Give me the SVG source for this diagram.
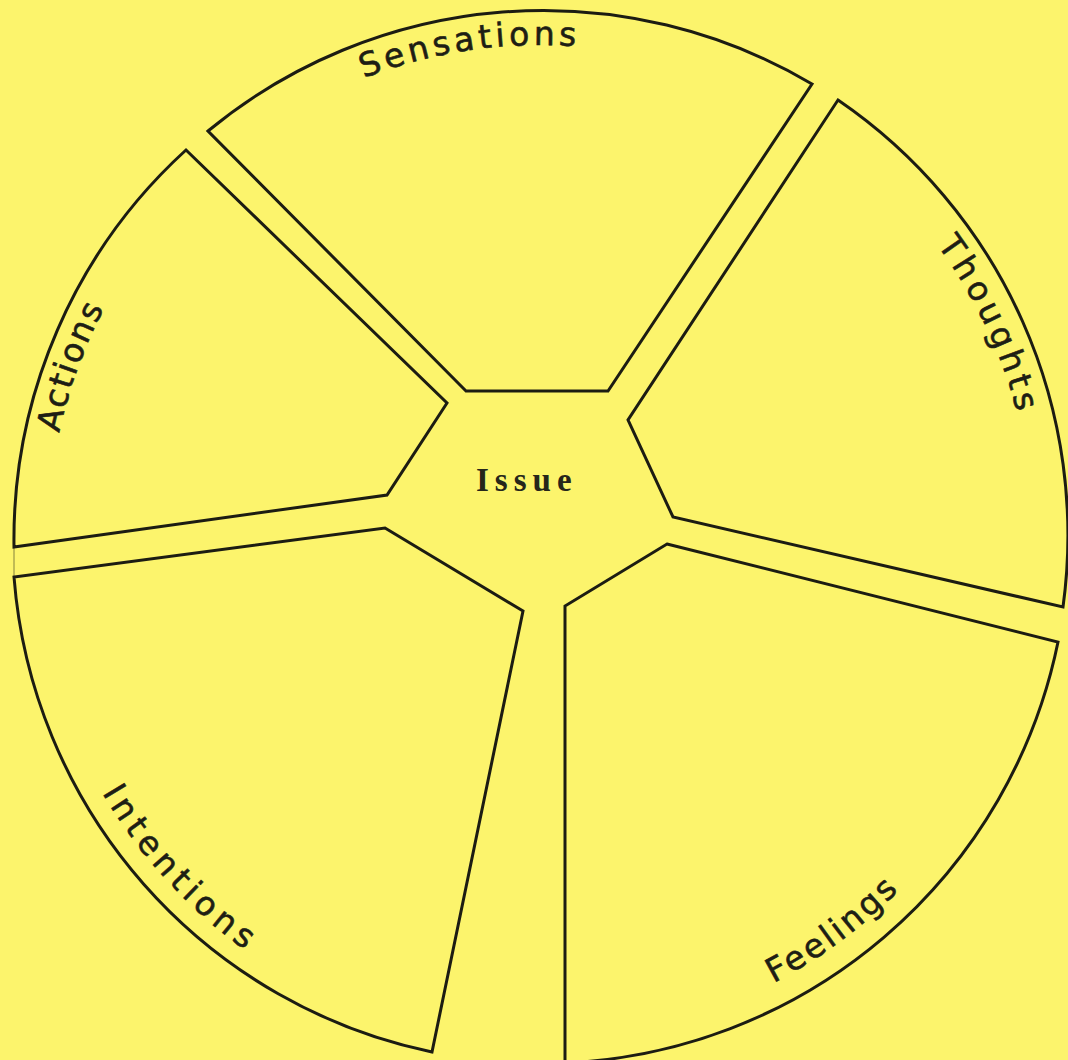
<svg xmlns="http://www.w3.org/2000/svg" xmlns:xlink="http://www.w3.org/1999/xlink" width="1068" height="1060" viewBox="0 0 1068 1060">
  <style>
    .seg { fill: none; stroke: #1c1c12; stroke-width: 3; stroke-linejoin: miter; }
    .lbl { font-family: "DejaVu Sans", "Liberation Sans", sans-serif; font-size: 33px; fill: #1e1e14; stroke: #1e1e14; stroke-width: 0.6; }
    .issue { font-family: "Liberation Serif", "Times New Roman", serif; font-weight: bold; font-size: 33px; letter-spacing: 6px; fill: #26261a; }
  </style>
  <defs>
    <path id="pSens" d="M236.1,150.9 A492,492 0 0 1 722.9,79.9"/>
    <path id="pThou" d="M821.1,132.5 A492,492 0 0 1 1031.3,577.3"/>
    <path id="pAct" d="M55.5,622.6 A493,493 0 0 1 224.1,159.4"/>
    <path id="pFeel" d="M598.8,1036.7 A503,503 0 0 0 1002.6,736.8"/>
    <path id="pInt" d="M45.2,647.8 A508,508 0 0 0 389.1,1021.8"/>
  </defs>
  <rect width="1068" height="1060" fill="#fcf46c"/>

  <g id="sensations">
    <path class="seg" d="M466,391 L208,131 A527,527 0 0 1 812,84 L608,391 Z"/>
    <text class="lbl" letter-spacing="4"><textPath xlink:href="#pSens" href="#pSens" startOffset="50%" text-anchor="middle">Sensations</textPath></text>
  </g>
  <g id="thoughts">
    <path class="seg" d="M838,100 A527,527 0 0 1 1063,607 L673,517 L628,420 Z"/>
    <text class="lbl" letter-spacing="4.6"><textPath xlink:href="#pThou" href="#pThou" startOffset="50%" text-anchor="middle">Thoughts</textPath></text>
  </g>
  <g id="feelings">
    <path class="seg" d="M667,544 L1058,642 A527,527 0 0 1 565,1063 L565,606 Z"/>
    <text class="lbl" letter-spacing="3"><textPath xlink:href="#pFeel" href="#pFeel" startOffset="50%" text-anchor="middle">Feelings</textPath></text>
  </g>
  <g id="intentions">
    <path class="seg" d="M385,528 L523,611 L432,1052 A527,527 0 0 1 14,577 Z"/>
    <text class="lbl" letter-spacing="5.4"><textPath xlink:href="#pInt" href="#pInt" startOffset="50%" text-anchor="middle">Intentions</textPath></text>
  </g>
  <g id="actions">
    <path class="seg" d="M186,150 L447,403 L387,495 L14,547 A527,527 0 0 1 186,150 Z"/>
    <text class="lbl" letter-spacing="2"><textPath xlink:href="#pAct" href="#pAct" startOffset="50%" text-anchor="middle">Actions</textPath></text>
  </g>
  <g id="issue">
    <text class="issue" x="476" y="491">Issue</text>
  </g>
  <g id="connectors">
    <line x1="14" y1="547" x2="14" y2="577" stroke="#1c1c12" stroke-width="1.5" opacity="0.35"/>
  </g>
</svg>
